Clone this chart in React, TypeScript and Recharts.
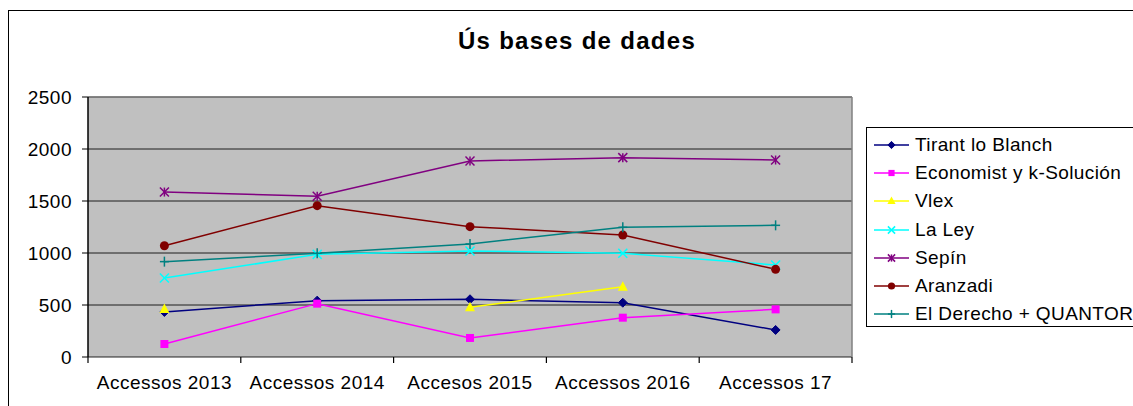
import React from "react";
import {
  LineChart,
  Line,
  XAxis,
  YAxis,
  CartesianGrid,
  ReferenceLine,
} from "recharts";

const categories = ["Accessos 2013", "Accessos 2014", "Accesos 2015", "Accessos 2016", "Accessos 17"];
const tirant = [433, 542, 555, 522, 260];
const economist = [125, 513, 183, 378, 458];
const vlex: (number | null)[] = [462, null, 478, 676, null];
const laLey = [760, 987, 1019, 997, 885];
const sepin = [1586, 1545, 1885, 1917, 1894];
const aranzadi = [1070, 1455, 1253, 1173, 843];
const elDerecho = [917, 997, 1087, 1247, 1266];
const yTicks = [0, 500, 1000, 1500, 2000, 2500];
const boundaryTicks = [0, 1, 2, 3, 4, 5];

type Shape = "diamond" | "square" | "triangle" | "x" | "star" | "circle" | "plus";

const series: { key: string; name: string; values: (number | null)[]; color: string; shape: Shape }[] = [
  { key: "tirant", name: "Tirant lo Blanch", values: tirant, color: "#000080", shape: "diamond" },
  { key: "economist", name: "Economist y k-Solución", values: economist, color: "#FF00FF", shape: "square" },
  { key: "vlex", name: "Vlex", values: vlex, color: "#FFFF00", shape: "triangle" },
  { key: "laley", name: "La Ley", values: laLey, color: "#00FFFF", shape: "x" },
  { key: "sepin", name: "Sepín", values: sepin, color: "#800080", shape: "star" },
  { key: "aranzadi", name: "Aranzadi", values: aranzadi, color: "#800000", shape: "circle" },
  { key: "derecho", name: "El Derecho + QUANTOR", values: elDerecho, color: "#008080", shape: "plus" },
];

const data = categories.map((c, i) => {
  const row: Record<string, any> = { cat: c, n: i + 0.5 };
  series.forEach((s) => {
    row[s.key] = s.values[i];
  });
  return row;
});

const CHART_W = 1133;
const CHART_H = 406;
const MARGIN = { top: 97, right: 281, bottom: 19, left: 28 };
const Y_AXIS_W = 60;
const PLOT_W = CHART_W - MARGIN.left - MARGIN.right - Y_AXIS_W;
const HALF_BAND = PLOT_W / categories.length / 2;

function Marker({ shape, cx, cy, color, s = 1 }: { shape: Shape; cx: number; cy: number; color: string; s?: number }) {
  const r = 4.5 * s;
  switch (shape) {
    case "diamond":
      return <polygon points={`${cx},${cy - r} ${cx + r},${cy} ${cx},${cy + r} ${cx - r},${cy}`} fill={color} stroke={color} />;
    case "square":
      return <rect x={cx - r + 0.5} y={cy - r + 0.5} width={2 * r - 1} height={2 * r - 1} fill={color} />;
    case "triangle":
      return <polygon points={`${cx},${cy - r - 1} ${cx + r + 0.5},${cy + r - 0.5} ${cx - r - 0.5},${cy + r - 0.5}`} fill={color} />;
    case "x":
      return (
        <g stroke={color} strokeWidth={1.5}>
          <line x1={cx - r} y1={cy - r} x2={cx + r} y2={cy + r} />
          <line x1={cx - r} y1={cy + r} x2={cx + r} y2={cy - r} />
        </g>
      );
    case "star":
      return (
        <g stroke={color} strokeWidth={1.5}>
          <line x1={cx - r} y1={cy - r} x2={cx + r} y2={cy + r} />
          <line x1={cx - r} y1={cy + r} x2={cx + r} y2={cy - r} />
          <line x1={cx} y1={cy - r} x2={cx} y2={cy + r} />
        </g>
      );
    case "circle":
      return <circle cx={cx} cy={cy} r={r} fill={color} />;
    case "plus":
      return (
        <g stroke={color} strokeWidth={1.5}>
          <line x1={cx} y1={cy - r - 0.5} x2={cx} y2={cy + r + 0.5} />
          <line x1={cx - r} y1={cy} x2={cx + r} y2={cy} />
        </g>
      );
  }
  return null;
}

const makeDot = (shape: Shape, color: string) => (props: any) => {
  const { cx, cy, index, value } = props;
  if (cx == null || cy == null || value == null || (Array.isArray(value) && value[1] == null)) {
    return <g key={`d-${index}`} />;
  }
  return (
    <g key={`d-${index}`}>
      <Marker shape={shape} cx={cx} cy={cy} color={color} />
    </g>
  );
};

const FONT = "'Liberation Sans', Arial, sans-serif";

function CatTick(props: any) {
  const { x, y, payload, index } = props;
  const off = HALF_BAND;
  const axisY = CHART_H - MARGIN.bottom - 30;
  return (
    <g>
      <line x1={x - off} y1={axisY} x2={x - off} y2={axisY + 6} stroke="#000" strokeWidth={1.2} />
      {index === categories.length - 1 && (
        <line x1={x + off} y1={axisY} x2={x + off} y2={axisY + 6} stroke="#000" strokeWidth={1.2} />
      )}
      <text
        x={x}
        y={y}
        dy="0.71em"
        textAnchor="middle"
        fill="#000"
        fontSize={19}
        fontFamily={FONT}
        letterSpacing={0.5}
      >
        {payload.value}
      </text>
    </g>
  );
}

function LegendBox() {
  return (
    <div
      style={{
        position: "absolute",
        left: 866,
        top: 127,
        border: "1px solid #000",
        width: 290,
        height: 200,
        boxSizing: "border-box",
        paddingTop: 3,
        background: "#fff",
        fontFamily: FONT,
        fontSize: 19,
        letterSpacing: 0.4,
        color: "#000",
      }}
    >
      {series.map((s) => (
        <div key={s.key} style={{ display: "flex", alignItems: "center", height: 28.2, whiteSpace: "nowrap" }}>
          <svg width={48} height={20} style={{ flex: "none" }}>
            <line x1={7} y1={10} x2={42} y2={10} stroke={s.color} strokeWidth={1.5} />
            <Marker shape={s.shape} cx={24.5} cy={10} color={s.color} s={0.8} />
          </svg>
          <span>{s.name}</span>
        </div>
      ))}
    </div>
  );
}

export default function App() {
  return (
    <div style={{ position: "absolute", left: 0, top: 0, width: CHART_W, height: CHART_H, overflow: "hidden", background: "#fff" }}>
      <style>{`body{margin:0;overflow:hidden;}`}</style>
      <div
        style={{
          position: "absolute",
          left: 8,
          top: 10,
          width: 1200,
          height: 500,
          borderLeft: "1.5px solid #000",
          borderTop: "1.5px solid #000",
        }}
      />
      <div
        style={{
          position: "absolute",
          left: 0,
          top: 27,
          width: 1154,
          textAlign: "center",
          fontFamily: FONT,
          fontWeight: "bold",
          fontSize: 24,
          letterSpacing: 1.3,
          color: "#000",
        }}
      >
        Ús bases de dades
      </div>
      <div style={{ position: "absolute", left: 0, top: 0 }}>
        <LineChart width={CHART_W} height={CHART_H} data={data} margin={MARGIN}>
          <CartesianGrid vertical={false} fill="#C0C0C0" stroke="#000" strokeOpacity={0.85} fillOpacity={1} />
          <XAxis
            xAxisId="n"
            dataKey="n"
            type="number"
            domain={[0, 5]}
            ticks={boundaryTicks}
            tickFormatter={() => ""}
            tickSize={6}
            height={0}
            stroke="#000"
            axisLine={{ stroke: "#000", strokeWidth: 1.5 }}
            tickLine={{ stroke: "#000", strokeWidth: 1 }}
          />
          <XAxis
            dataKey="cat"
            scale="band"
            height={30}
            axisLine={false}
            tickLine={false}
            tickSize={8}
            tickMargin={11}
            interval={0}
            tick={<CatTick />}
          />
          <YAxis
            width={Y_AXIS_W}
            domain={[0, 2500]}
            ticks={yTicks}
            interval={0}
            tickSize={6}
            tickMargin={10}
            axisLine={{ stroke: "#000", strokeWidth: 1.5 }}
            tickLine={{ stroke: "#000" }}
            tick={{ fill: "#000", fontSize: 19, fontFamily: FONT, letterSpacing: 0.5 }}
          />
          <ReferenceLine y={2500} stroke="#808080" strokeWidth={1.5} />
          <ReferenceLine x={5} xAxisId="n" stroke="#808080" strokeWidth={1.5} />
          {series.map((s) => (
            <Line
              key={s.key}
              dataKey={s.key}
              name={s.name}
              stroke={s.color}
              strokeWidth={1.5}
              type="linear"
              isAnimationActive={false}
              dot={makeDot(s.shape, s.color)}
              activeDot={false}
              connectNulls={false}
            />
          ))}
        </LineChart>
      </div>
      <LegendBox />
    </div>
  );
}
